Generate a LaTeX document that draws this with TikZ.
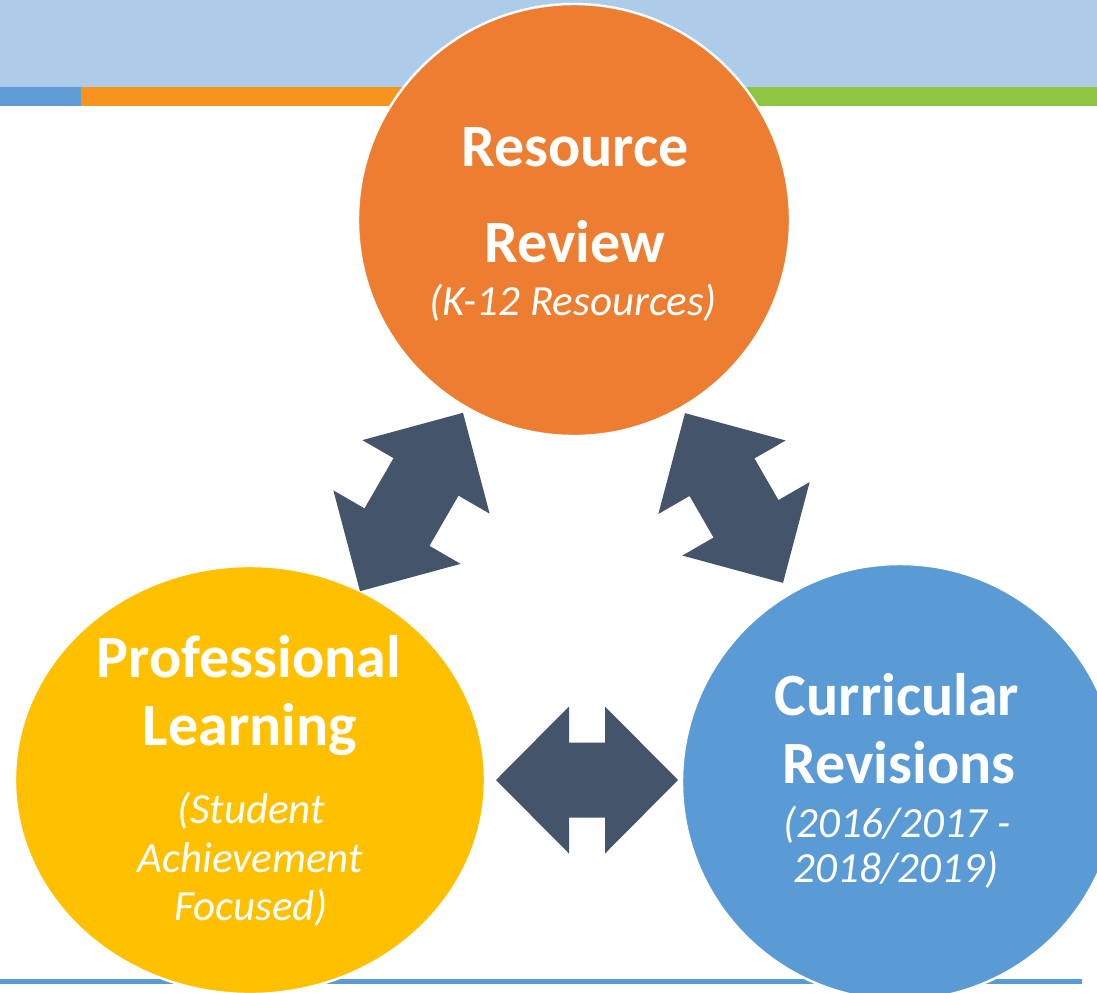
\documentclass[tikz,border=0pt]{standalone}
\usepackage{fontspec}
\setmainfont{Carlito}
\usetikzlibrary{shapes.geometric}
\definecolor{band}{HTML}{ADCCEA}
\definecolor{stripeblue}{HTML}{5F9BD5}
\definecolor{stripeorange}{HTML}{F7941D}
\definecolor{stripegreen}{HTML}{8DC63F}
\definecolor{lineblue}{HTML}{5B9BD5}
\definecolor{corange}{HTML}{ED7D31}
\definecolor{cyellow}{HTML}{FFC000}
\definecolor{cblue}{HTML}{5B9BD5}
\definecolor{arrowc}{HTML}{44546A}
\newcommand\dblarrow[4]{%
  \fill[arrowc, shift={(#1)}, rotate=#2]
    (#3,0) -- (#4,73.5) -- (#4,37.5) -- (-#4,37.5) -- (-#4,73.5) -- (-#3,0)
    -- (-#4,-73.5) -- (-#4,-37.5) -- (#4,-37.5) -- (#4,-73.5) -- cycle;}
\begin{document}
\begin{tikzpicture}[x=0.5pt,y=-0.5pt,
  bubble/.style={circle, draw=white, line width=1.2pt, inner sep=0pt},
  bigtxt/.style={anchor=base, text=white, inner sep=0pt, font=\fontsize{30}{36}\selectfont\bfseries},
  smalltxt/.style={anchor=base, text=white, inner sep=0pt, font=\fontsize{21.5}{26}\selectfont\itshape}]
\clip (0,0) rectangle (1097,992);
% header band and stripe
\fill[band] (0,0) rectangle (1097,87);
\fill[stripeblue] (0,87) rectangle (81,106);
\fill[stripeorange] (81,87) rectangle (575,106);
\fill[stripegreen] (575,87) rectangle (1097,106);
% bottom rule
\fill[lineblue] (0,979) rectangle (1082,984);
% circles
\node[bubble, fill=corange, minimum size=216pt] (review) at (574,220) {};
\node[bubble, ellipse, fill=cyellow, minimum width=235pt, minimum height=214pt] (learning) at (250,780) {};
\node[bubble, fill=cblue, minimum size=218pt] (curric) at (900,782) {};
% arrows
\coordinate (arrL) at (411.5,502);
\coordinate (arrR) at (734,498);
\coordinate (arrB) at (587,780);
\dblarrow{arrL}{60}{103}{29}
\dblarrow{arrR}{120}{98}{24}
\dblarrow{arrB}{0}{91}{18}
% texts
\node[bigtxt] (r1) at (575,166) {Resource};
\node[bigtxt] (r2) at (575,262) {Review};
\node[smalltxt] (r3) at (573,315) {(K-12 Resources)};
\node[bigtxt] (p1) at (249,677) {Professional};
\node[bigtxt] (p2) at (250,745) {Learning};
\node[smalltxt] (p3) at (251,823) {(Student};
\node[smalltxt] (p4) at (250,872) {Achievement};
\node[smalltxt] (p5) at (251,920) {Focused)};
\node[bigtxt] (c1) at (897,715) {Curricular};
\node[bigtxt] (c2) at (899,783) {Revisions};
\node[smalltxt] (c3) at (897,837) {(2016/2017 -};
\node[smalltxt] (c4) at (896,882) {2018/2019)};
\end{tikzpicture}
\end{document}
